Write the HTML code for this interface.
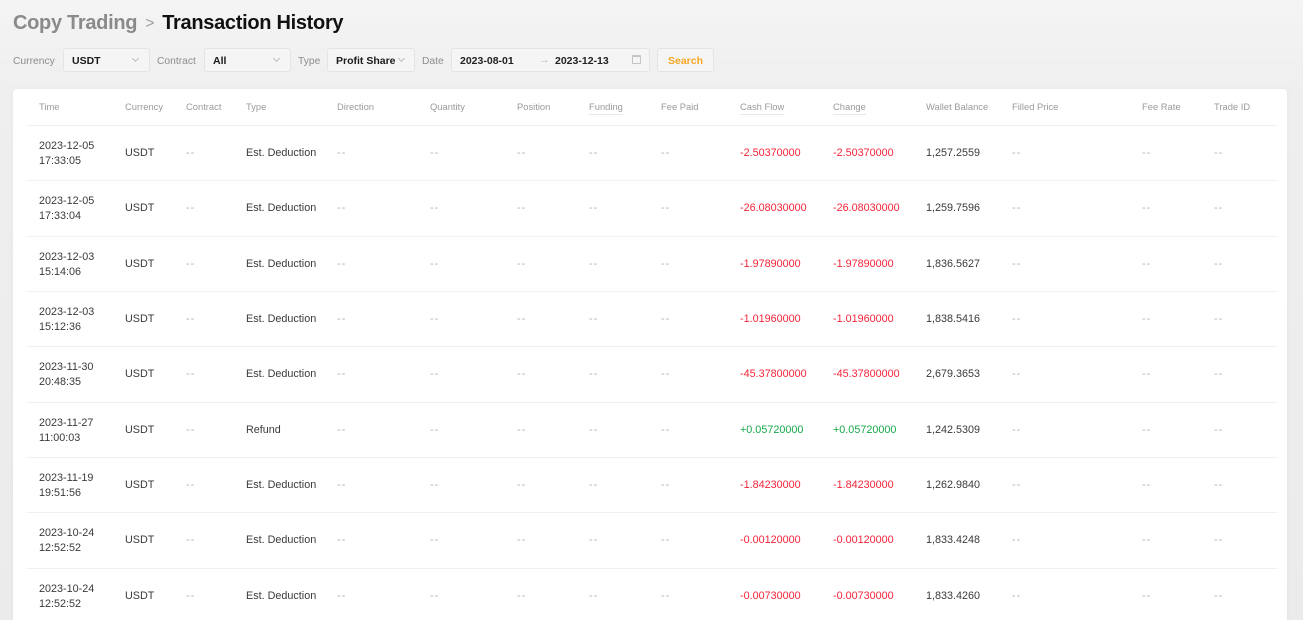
<!DOCTYPE html>
<html><head><meta charset="utf-8">
<style>
*{margin:0;padding:0;box-sizing:border-box}
html,body{width:1303px;height:620px;overflow:hidden}
body{background:linear-gradient(180deg,#f4f4f4 0px,#efefef 90px,#ebebeb 620px);font-family:"Liberation Sans",Arial,sans-serif;position:relative;color:#333}
.a{position:absolute;white-space:nowrap}
.title{top:13px;left:13px;font-size:20px;line-height:20px;font-weight:bold;letter-spacing:-0.3px}
.lbl{font-size:10.3px;color:#8c8c8c;top:49px;height:24px;display:flex;align-items:center}
.box{top:48px;height:24px;background:#f5f5f5;border:1px solid #e4e4e4;border-radius:3px;font-size:10.5px;font-weight:bold;color:#1a1a1a;padding-left:8px;display:flex;align-items:center;padding-top:1px}
.chev{position:absolute;top:7px;width:5px;height:5px;border-right:1px solid #bbb;border-bottom:1px solid #bbb;transform:rotate(45deg)}
.card{left:13px;top:89px;width:1274px;height:560px;background:#fff;border-radius:4px;box-shadow:0 0 6px rgba(0,0,0,0.04)}
.hd{top:98px;height:18px;line-height:18px;font-size:9.4px;color:#9a9a9a}
.ul{border-bottom:1px solid #e8e8e8;line-height:13px;top:100px;height:15px}
.sep{left:27px;width:1250px;height:1px;background:#f0f0f0}
.row{position:absolute;left:0;width:1303px;height:55px}
.c{position:absolute;top:0;height:55px;display:flex;align-items:center;font-size:10.8px;color:#3a3a3a;white-space:nowrap;line-height:15px}
.d{color:#b0b0b0;font-size:11px;letter-spacing:1px}
.r{color:#f5243a}
.g{color:#17a84a}
</style></head><body>

<div class="a title"><span style="color:#8a8a8a">Copy Trading</span><span style="color:#a0a0a0;font-weight:normal;font-size:16px;margin:0 8px 0 8px;position:relative;top:-1px">&gt;</span><span style="color:#111">Transaction History</span></div>

<div class="a lbl" style="left:13px">Currency</div>
<div class="a box" style="left:63px;width:87px">USDT<span class="chev" style="left:69px"></span></div>
<div class="a lbl" style="left:157px">Contract</div>
<div class="a box" style="left:204px;width:87px">All<span class="chev" style="left:69px"></span></div>
<div class="a lbl" style="left:298px">Type</div>
<div class="a box" style="left:327px;width:88px">Profit Share<span class="chev" style="left:71px"></span></div>
<div class="a lbl" style="left:422px">Date</div>
<div class="a box" style="left:451px;width:199px;font-weight:600;color:#222">2023-08-01<span style="position:absolute;left:87px;top:5px;color:#bbb;font-weight:normal">&#8594;</span><span style="position:absolute;left:103px;top:6px">2023-12-13</span><span style="position:absolute;left:180px;top:6px;width:9px;height:9px;border:1px solid #c4c4c4;border-radius:1px;border-top-width:2px"></span></div>
<div class="a box" style="left:657px;width:57px;padding-left:0;justify-content:center;color:#f5a623">Search</div>

<div class="a card"></div>

<div class="a hd" style="left:39px">Time</div>
<div class="a hd" style="left:125px">Currency</div>
<div class="a hd" style="left:186px">Contract</div>
<div class="a hd" style="left:246px">Type</div>
<div class="a hd" style="left:337px">Direction</div>
<div class="a hd" style="left:430px">Quantity</div>
<div class="a hd" style="left:517px">Position</div>
<div class="a hd ul" style="left:589px">Funding</div>
<div class="a hd" style="left:661px">Fee Paid</div>
<div class="a hd ul" style="left:740px">Cash Flow</div>
<div class="a hd ul" style="left:833px">Change</div>
<div class="a hd" style="left:926px">Wallet Balance</div>
<div class="a hd" style="left:1012px">Filled Price</div>
<div class="a hd" style="left:1142px">Fee Rate</div>
<div class="a hd" style="left:1214px">Trade ID</div>

<div class="a sep" style="top:125px"></div>
<div class="a sep" style="top:180px"></div>
<div class="a sep" style="top:236px"></div>
<div class="a sep" style="top:291px"></div>
<div class="a sep" style="top:346px"></div>
<div class="a sep" style="top:402px"></div>
<div class="a sep" style="top:457px"></div>
<div class="a sep" style="top:512px"></div>
<div class="a sep" style="top:568px"></div>

<div class="row" style="top:126px">
<div class="c" style="left:39px">2023-12-05<br>17:33:05</div><div class="c" style="left:125px">USDT</div><div class="c d" style="left:186px">--</div><div class="c" style="left:246px">Est. Deduction</div><div class="c d" style="left:337px">--</div><div class="c d" style="left:430px">--</div><div class="c d" style="left:517px">--</div><div class="c d" style="left:589px">--</div><div class="c d" style="left:661px">--</div><div class="c r" style="left:740px">-2.50370000</div><div class="c r" style="left:833px">-2.50370000</div><div class="c" style="left:926px">1,257.2559</div><div class="c d" style="left:1012px">--</div><div class="c d" style="left:1142px">--</div><div class="c d" style="left:1214px">--</div>
</div>
<div class="row" style="top:181px">
<div class="c" style="left:39px">2023-12-05<br>17:33:04</div><div class="c" style="left:125px">USDT</div><div class="c d" style="left:186px">--</div><div class="c" style="left:246px">Est. Deduction</div><div class="c d" style="left:337px">--</div><div class="c d" style="left:430px">--</div><div class="c d" style="left:517px">--</div><div class="c d" style="left:589px">--</div><div class="c d" style="left:661px">--</div><div class="c r" style="left:740px">-26.08030000</div><div class="c r" style="left:833px">-26.08030000</div><div class="c" style="left:926px">1,259.7596</div><div class="c d" style="left:1012px">--</div><div class="c d" style="left:1142px">--</div><div class="c d" style="left:1214px">--</div>
</div>
<div class="row" style="top:237px">
<div class="c" style="left:39px">2023-12-03<br>15:14:06</div><div class="c" style="left:125px">USDT</div><div class="c d" style="left:186px">--</div><div class="c" style="left:246px">Est. Deduction</div><div class="c d" style="left:337px">--</div><div class="c d" style="left:430px">--</div><div class="c d" style="left:517px">--</div><div class="c d" style="left:589px">--</div><div class="c d" style="left:661px">--</div><div class="c r" style="left:740px">-1.97890000</div><div class="c r" style="left:833px">-1.97890000</div><div class="c" style="left:926px">1,836.5627</div><div class="c d" style="left:1012px">--</div><div class="c d" style="left:1142px">--</div><div class="c d" style="left:1214px">--</div>
</div>
<div class="row" style="top:292px">
<div class="c" style="left:39px">2023-12-03<br>15:12:36</div><div class="c" style="left:125px">USDT</div><div class="c d" style="left:186px">--</div><div class="c" style="left:246px">Est. Deduction</div><div class="c d" style="left:337px">--</div><div class="c d" style="left:430px">--</div><div class="c d" style="left:517px">--</div><div class="c d" style="left:589px">--</div><div class="c d" style="left:661px">--</div><div class="c r" style="left:740px">-1.01960000</div><div class="c r" style="left:833px">-1.01960000</div><div class="c" style="left:926px">1,838.5416</div><div class="c d" style="left:1012px">--</div><div class="c d" style="left:1142px">--</div><div class="c d" style="left:1214px">--</div>
</div>
<div class="row" style="top:347px">
<div class="c" style="left:39px">2023-11-30<br>20:48:35</div><div class="c" style="left:125px">USDT</div><div class="c d" style="left:186px">--</div><div class="c" style="left:246px">Est. Deduction</div><div class="c d" style="left:337px">--</div><div class="c d" style="left:430px">--</div><div class="c d" style="left:517px">--</div><div class="c d" style="left:589px">--</div><div class="c d" style="left:661px">--</div><div class="c r" style="left:740px">-45.37800000</div><div class="c r" style="left:833px">-45.37800000</div><div class="c" style="left:926px">2,679.3653</div><div class="c d" style="left:1012px">--</div><div class="c d" style="left:1142px">--</div><div class="c d" style="left:1214px">--</div>
</div>
<div class="row" style="top:403px">
<div class="c" style="left:39px">2023-11-27<br>11:00:03</div><div class="c" style="left:125px">USDT</div><div class="c d" style="left:186px">--</div><div class="c" style="left:246px">Refund</div><div class="c d" style="left:337px">--</div><div class="c d" style="left:430px">--</div><div class="c d" style="left:517px">--</div><div class="c d" style="left:589px">--</div><div class="c d" style="left:661px">--</div><div class="c g" style="left:740px">+0.05720000</div><div class="c g" style="left:833px">+0.05720000</div><div class="c" style="left:926px">1,242.5309</div><div class="c d" style="left:1012px">--</div><div class="c d" style="left:1142px">--</div><div class="c d" style="left:1214px">--</div>
</div>
<div class="row" style="top:458px">
<div class="c" style="left:39px">2023-11-19<br>19:51:56</div><div class="c" style="left:125px">USDT</div><div class="c d" style="left:186px">--</div><div class="c" style="left:246px">Est. Deduction</div><div class="c d" style="left:337px">--</div><div class="c d" style="left:430px">--</div><div class="c d" style="left:517px">--</div><div class="c d" style="left:589px">--</div><div class="c d" style="left:661px">--</div><div class="c r" style="left:740px">-1.84230000</div><div class="c r" style="left:833px">-1.84230000</div><div class="c" style="left:926px">1,262.9840</div><div class="c d" style="left:1012px">--</div><div class="c d" style="left:1142px">--</div><div class="c d" style="left:1214px">--</div>
</div>
<div class="row" style="top:513px">
<div class="c" style="left:39px">2023-10-24<br>12:52:52</div><div class="c" style="left:125px">USDT</div><div class="c d" style="left:186px">--</div><div class="c" style="left:246px">Est. Deduction</div><div class="c d" style="left:337px">--</div><div class="c d" style="left:430px">--</div><div class="c d" style="left:517px">--</div><div class="c d" style="left:589px">--</div><div class="c d" style="left:661px">--</div><div class="c r" style="left:740px">-0.00120000</div><div class="c r" style="left:833px">-0.00120000</div><div class="c" style="left:926px">1,833.4248</div><div class="c d" style="left:1012px">--</div><div class="c d" style="left:1142px">--</div><div class="c d" style="left:1214px">--</div>
</div>
<div class="row" style="top:569px">
<div class="c" style="left:39px">2023-10-24<br>12:52:52</div><div class="c" style="left:125px">USDT</div><div class="c d" style="left:186px">--</div><div class="c" style="left:246px">Est. Deduction</div><div class="c d" style="left:337px">--</div><div class="c d" style="left:430px">--</div><div class="c d" style="left:517px">--</div><div class="c d" style="left:589px">--</div><div class="c d" style="left:661px">--</div><div class="c r" style="left:740px">-0.00730000</div><div class="c r" style="left:833px">-0.00730000</div><div class="c" style="left:926px">1,833.4260</div><div class="c d" style="left:1012px">--</div><div class="c d" style="left:1142px">--</div><div class="c d" style="left:1214px">--</div>
</div>

</body></html>
